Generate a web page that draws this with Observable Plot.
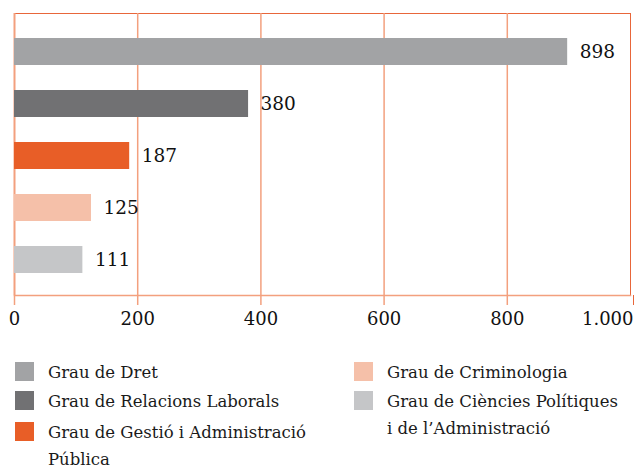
<!DOCTYPE html>
<html>
<head>
<meta charset="utf-8">
<script src="https://cdn.jsdelivr.net/npm/d3@7"></script>
<script src="https://cdn.jsdelivr.net/npm/@observablehq/plot@0.6"></script>
<style>
  body { margin: 0; background: #fff; font-family: "DejaVu Serif", serif; color: #1a1a1a; }
  #legend { display: flex; padding: 19px 0 0 15px; font-size: 16.5px; line-height: 27px; }
  .col { display: flex; flex-direction: column; }
  .col1 { width: 339px; }
  .item { display: flex; align-items: flex-start; margin-bottom: 2px; }
  .item.third { margin-top: 2px; }
  .sw { width: 19px; height: 19px; margin-top: 3px; margin-right: 14px; flex: none; }
</style>
</head>
<body>
<div id="chart"></div>
<div id="legend"></div>
<script>
const categories = [
  "Grau de Dret",
  "Grau de Relacions Laborals",
  "Grau de Gestió i Administració\nPública",
  "Grau de Criminologia",
  "Grau de Ciències Polítiques\ni de l’Administració"
];
const values = [898, 380, 187, 125, 111];
const colors = ["#a2a3a5", "#717173", "#e85e27", "#f5c0a9", "#c5c6c8"];
const xTicks = [0, 200, 400, 600, 800, 1000];
const legendColumns = [[0, 1, 2], [3, 4]];

const data = categories.map((c, i) => ({cat: c, value: values[i], color: colors[i]}));
const fmt = d => d3.format(",")(d).replace(/,/g, ".");
const salmon = "#f3a07e";
const dark = "#e8663a";

const chart = Plot.plot({
  width: 635,
  height: 340,
  marginTop: 13,
  marginBottom: 45,
  marginLeft: 14,
  marginRight: 5,
  style: {fontFamily: "DejaVu Serif", color: "#1a1a1a", background: "#fff"},
  x: {domain: [0, 1000], axis: null, label: null},
  y: {domain: categories, axis: null, label: null, range: [25, 287], paddingInner: 0.48, paddingOuter: 0.25},
  marks: [
    Plot.frame({stroke: dark, strokeWidth: 1}),
    Plot.ruleX(xTicks.filter(d => d > 0 && d < 1000), {stroke: salmon, strokeWidth: 1.5}),
    Plot.ruleX([0], {stroke: salmon, strokeWidth: 2}),
    Plot.frame({anchor: "bottom", stroke: salmon, strokeWidth: 1.5}),
    Plot.barX(data, {x: "value", y: "cat", fill: d => d.color}),
    Plot.text(data, {x: "value", y: "cat", text: d => String(d.value), textAnchor: "start", dx: 12, fontSize: 18.5, fill: "#111"}),
    Plot.axisX(xTicks.filter(d => d < 1000), {anchor: "bottom", label: null, tickSize: 10, tickPadding: 7, tickFormat: fmt, fontSize: 18, stroke: salmon, fill: "#111", strokeWidth: 1.5}),
    Plot.axisX([1000], {anchor: "bottom", label: null, tickSize: 10, tickPadding: 7, tickFormat: fmt, fontSize: 18, stroke: dark, fill: "#111", textAnchor: "end", dx: 3})
  ]
});
document.getElementById("chart").appendChild(chart);

const legend = document.getElementById("legend");
legendColumns.forEach((idxs, ci) => {
  const col = document.createElement("div");
  col.className = "col col" + (ci + 1);
  idxs.forEach((i, k) => {
    const item = document.createElement("div");
    item.className = "item" + (k === 2 ? " third" : "");
    const sw = document.createElement("div");
    sw.className = "sw";
    sw.style.background = colors[i];
    const lab = document.createElement("div");
    lab.style.whiteSpace = "pre-line";
    lab.textContent = categories[i];
    item.appendChild(sw);
    item.appendChild(lab);
    col.appendChild(item);
  });
  legend.appendChild(col);
});
</script>
</body>
</html>
